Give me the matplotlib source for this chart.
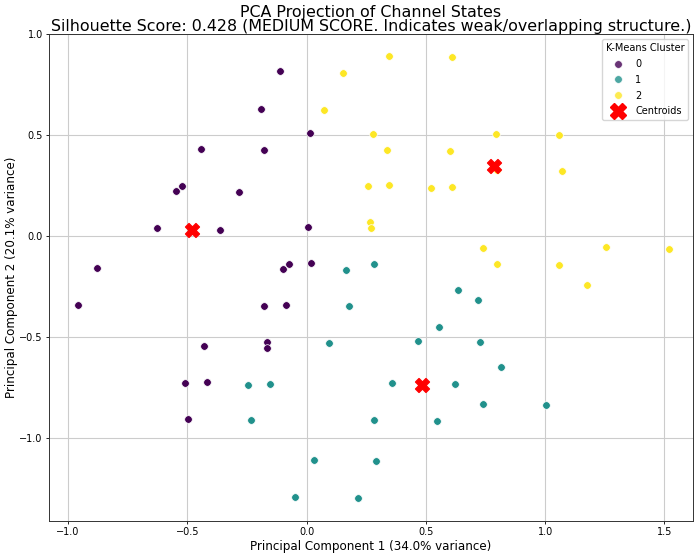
import matplotlib
matplotlib.use("Agg")
import matplotlib.pyplot as plt
from matplotlib.lines import Line2D
import numpy as np

# Cluster 0 (purple)
c0_x = [-0.113, -0.193, 0.015, -0.443, -0.179, -0.549, -0.523, -0.284, -0.628, -0.364,
        0.005, -0.879, -0.099, -0.074, 0.017, -0.958, -0.178, -0.088, -0.432, -0.166,
        -0.166, -0.510, -0.418, -0.498]
c0_y = [0.816, 0.632, 0.513, 0.432, 0.426, 0.224, 0.250, 0.217, 0.040, 0.033,
        0.046, -0.157, -0.162, -0.137, -0.131, -0.343, -0.346, -0.341, -0.545, -0.523,
        -0.553, -0.729, -0.724, -0.907]
# Cluster 1 (teal)
c1_x = [0.165, 0.281, 0.176, 0.096, -0.245, -0.155, -0.235, 0.029, -0.049, 0.215,
        0.634, 0.717, 0.555, 0.465, 0.729, 0.817, 0.360, 0.623, 0.739, 1.003,
        0.282, 0.545, 0.293]
c1_y = [-0.170, -0.138, -0.346, -0.530, -0.735, -0.730, -0.912, -1.109, -1.293, -1.298,
        -0.268, -0.318, -0.452, -0.518, -0.525, -0.648, -0.727, -0.734, -0.831, -0.836,
        -0.909, -0.917, -1.116]
# Cluster 2 (yellow)
c2_x = [0.345, 0.608, 0.151, 0.071, 0.279, 0.795, 1.059, 0.337, 0.601, 1.069,
        0.257, 0.347, 0.521, 0.611, 0.267, 0.268, 0.738, 1.254, 1.518, 0.797,
        1.059, 1.175, 0.800]
c2_y = [0.894, 0.888, 0.808, 0.626, 0.505, 0.508, 0.502, 0.429, 0.422, 0.323,
        0.247, 0.252, 0.240, 0.245, 0.068, 0.040, -0.060, -0.056, -0.063, -0.136,
        -0.142, -0.240, 0.330]
# Centroids
cent_x = [-0.480, 0.485, 0.787]
cent_y = [0.030, -0.737, 0.348]

cluster_labels = ["0", "1", "2"]
cmap = plt.get_cmap("viridis")
colors = [cmap(0.0), cmap(0.5), cmap(1.0)]

fig = plt.figure(figsize=(7.0, 5.54), dpi=100)
ax = fig.add_axes([0.07, 0.060, 0.92, 0.878])

for xs, ys, col in zip([c0_x, c1_x, c2_x], [c0_y, c1_y, c2_y], colors):
    ax.scatter(xs, ys, s=30, color=col, edgecolors="white", linewidths=0.5, zorder=3)
ax.scatter(cent_x, cent_y, s=100, marker="X", color="red", zorder=4)

ax.set_xlim(-1.08, 1.62)
ax.set_ylim(-1.41, 1.0)
ax.set_xticks([-1.0, -0.5, 0.0, 0.5, 1.0, 1.5])
ax.set_yticks([-1.0, -0.5, 0.0, 0.5, 1.0])
ax.grid(True, color="#cccccc", linewidth=0.8, zorder=0)
ax.set_axisbelow(True)
ax.tick_params(labelsize=7, width=0.6, length=2.5, pad=2)
for sp in ax.spines.values():
    sp.set_linewidth(0.7)
    sp.set_color("#333333")

ax.set_xlabel("Principal Component 1 (34.0% variance)", fontsize=8.6, labelpad=2)
ax.set_ylabel("Principal Component 2 (20.1% variance)", fontsize=8.6, labelpad=1)
ax.set_title("PCA Projection of Channel States\n"
             "Silhouette Score: 0.428 (MEDIUM SCORE. Indicates weak/overlapping structure.)",
             fontsize=11.4, pad=1, linespacing=0.95)

handles = [Line2D([], [], marker="o", linestyle="", markersize=5.5, markerfacecolor=c,
                  markeredgecolor="white", markeredgewidth=0.5, alpha=0.8) for c in colors]
handles.append(Line2D([], [], marker="X", linestyle="", markersize=11, color="red"))
ax.legend(handles, cluster_labels + ["Centroids"], title="K-Means Cluster", loc="upper right",
          fontsize=7, title_fontsize=7, framealpha=0.8, labelspacing=0.6)

fig.savefig("out.png", dpi=100)
